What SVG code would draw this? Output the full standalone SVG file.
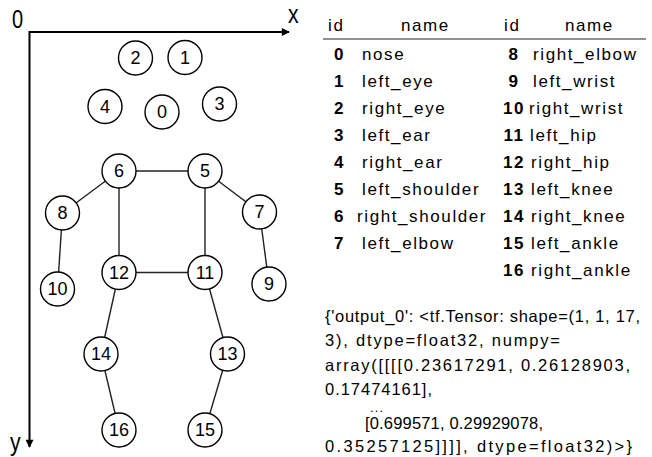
<svg xmlns="http://www.w3.org/2000/svg" width="652" height="457" viewBox="0 0 652 457">
<style>
.edge{stroke:#222;stroke-width:1.4;fill:none}
.node circle{fill:#fff;stroke:#000;stroke-width:1.4}
.node text{font-family:"Liberation Sans",Arial,sans-serif;font-size:18px;text-anchor:middle;fill:#000}
.ax{font-family:"Liberation Sans",Arial,sans-serif;font-size:25px;fill:#000}
.tb{font-family:"Liberation Sans",Arial,sans-serif;font-size:17px;letter-spacing:1.6px;fill:#000}
.id{font-weight:bold;text-anchor:middle}
.out{font-family:"Liberation Sans",Arial,sans-serif;font-size:16.5px;fill:#000}
</style>
<defs>
<marker id="ah" viewBox="0 0 10 10" refX="9" refY="5" markerWidth="9" markerHeight="8" markerUnits="userSpaceOnUse" orient="auto">
<path d="M0,0 L10,5 L0,10 Z" fill="#000"/>
</marker>
<linearGradient id="rule" x1="0" y1="0" x2="1" y2="0">
<stop offset="0" stop-color="#bbb"/>
<stop offset="0.12" stop-color="#333"/>
<stop offset="0.9" stop-color="#222"/>
<stop offset="1" stop-color="#bbb"/>
</linearGradient>
</defs>
<rect width="652" height="457" fill="#fff"/>
<g id="axes">
<line x1="29.5" y1="32" x2="289" y2="32" stroke="#000" stroke-width="2" marker-end="url(#ah)"/>
<line x1="29.5" y1="31" x2="29.5" y2="447" stroke="#000" stroke-width="2" marker-end="url(#ah)"/>
<text class="ax" x="12" y="28" transform="translate(12 0) scale(0.8 1) translate(-12 0)">0</text>
<text class="ax" x="288" y="23" transform="translate(288 0) scale(0.85 1) translate(-288 0)">x</text>
<text class="ax" x="10" y="451" transform="translate(10 0) scale(0.85 1) translate(-10 0)">y</text>
</g>
<g id="connectors">
<line class="edge" x1="119" y1="171" x2="205" y2="171"/>
<line class="edge" x1="119" y1="171" x2="62.5" y2="213"/>
<line class="edge" x1="62.5" y1="213" x2="57.5" y2="289"/>
<line class="edge" x1="205" y1="171" x2="259.5" y2="212"/>
<line class="edge" x1="259.5" y1="212" x2="269" y2="284"/>
<line class="edge" x1="119" y1="171" x2="119" y2="272.5"/>
<line class="edge" x1="205" y1="171" x2="205" y2="272.5"/>
<line class="edge" x1="119" y1="272.5" x2="205" y2="272.5"/>
<line class="edge" x1="119" y1="272.5" x2="101" y2="354"/>
<line class="edge" x1="101" y1="354" x2="119" y2="430"/>
<line class="edge" x1="205" y1="272.5" x2="227.5" y2="354"/>
<line class="edge" x1="227.5" y1="354" x2="205" y2="430"/>
</g>
<g id="n0" class="node"><circle cx="162" cy="112" r="17"/><text x="162" y="118.4">0</text></g>
<g id="n1" class="node"><circle cx="185" cy="57.5" r="17"/><text x="185" y="63.9">1</text></g>
<g id="n2" class="node"><circle cx="135.5" cy="58" r="17"/><text x="135.5" y="64.4">2</text></g>
<g id="n3" class="node"><circle cx="219.5" cy="104" r="17"/><text x="219.5" y="110.4">3</text></g>
<g id="n4" class="node"><circle cx="105" cy="106.5" r="17"/><text x="105" y="112.9">4</text></g>
<g id="n5" class="node"><circle cx="205" cy="171" r="17"/><text x="205" y="177.4">5</text></g>
<g id="n6" class="node"><circle cx="119" cy="171" r="17"/><text x="119" y="177.4">6</text></g>
<g id="n7" class="node"><circle cx="259.5" cy="212" r="17"/><text x="259.5" y="218.4">7</text></g>
<g id="n8" class="node"><circle cx="62.5" cy="213" r="17"/><text x="62.5" y="219.4">8</text></g>
<g id="n9" class="node"><circle cx="269" cy="284" r="17"/><text x="269" y="290.4">9</text></g>
<g id="n10" class="node"><circle cx="57.5" cy="289" r="17"/><text x="57.5" y="295.4">10</text></g>
<g id="n11" class="node"><circle cx="205" cy="272.5" r="17"/><text x="205" y="278.9">11</text></g>
<g id="n12" class="node"><circle cx="119" cy="272.5" r="17"/><text x="119" y="278.9">12</text></g>
<g id="n13" class="node"><circle cx="227.5" cy="354" r="17"/><text x="227.5" y="360.4">13</text></g>
<g id="n14" class="node"><circle cx="101" cy="354" r="17"/><text x="101" y="360.4">14</text></g>
<g id="n15" class="node"><circle cx="205" cy="430" r="17"/><text x="205" y="436.4">15</text></g>
<g id="n16" class="node"><circle cx="119" cy="430" r="17"/><text x="119" y="436.4">16</text></g>
<g id="table">
<line x1="323" y1="11.5" x2="646" y2="11.5" stroke="url(#rule)" stroke-width="2.5"/>
<line x1="323" y1="39" x2="646" y2="39" stroke="#222" stroke-width="1"/>
<line x1="323" y1="284.5" x2="648" y2="284.5" stroke="url(#rule)" stroke-width="2.5"/>
<g class="tb">
<text x="328" y="31">id</text>
<text x="401" y="31">name</text>
<text x="504" y="31">id</text>
<text x="565" y="31">name</text>
</g>
<g class="tb">
<text class="id" x="339.5" y="60">0</text><text x="362" y="60">nose</text>
<text class="id" x="339.5" y="87">1</text><text x="362" y="87">left_eye</text>
<text class="id" x="339.5" y="114">2</text><text x="362" y="114">right_eye</text>
<text class="id" x="339.5" y="141">3</text><text x="362" y="141">left_ear</text>
<text class="id" x="339.5" y="168">4</text><text x="362" y="168">right_ear</text>
<text class="id" x="339.5" y="195">5</text><text x="362" y="195">left_shoulder</text>
<text class="id" x="339.5" y="222">6</text><text x="357" y="222">right_shoulder</text>
<text class="id" x="339.5" y="249">7</text><text x="362" y="249">left_elbow</text>
<text class="id" x="514" y="60">8</text><text x="533" y="60">right_elbow</text>
<text class="id" x="514" y="87">9</text><text x="533" y="87">left_wrist</text>
<text class="id" x="514" y="114">10</text><text x="529" y="114">right_wrist</text>
<text class="id" x="514" y="141">11</text><text x="530" y="141">left_hip</text>
<text class="id" x="514" y="168">12</text><text x="531" y="168">right_hip</text>
<text class="id" x="514" y="195">13</text><text x="531" y="195">left_knee</text>
<text class="id" x="514" y="222">14</text><text x="531" y="222">right_knee</text>
<text class="id" x="514" y="249">15</text><text x="531" y="249">left_ankle</text>
<text class="id" x="514" y="276">16</text><text x="531" y="276">right_ankle</text>
</g>
</g>
<g id="output" class="out">
<text x="325" y="322" textLength="315" lengthAdjust="spacing">{'output_0': &lt;tf.Tensor: shape=(1, 1, 17,</text>
<text x="325" y="346" textLength="235" lengthAdjust="spacing">3), dtype=float32, numpy=</text>
<text x="325" y="371" textLength="305" lengthAdjust="spacing">array([[[[0.23617291, 0.26128903,</text>
<text x="325" y="395" textLength="107" lengthAdjust="spacing">0.17474161],</text>
<text x="370" y="412" font-size="13" textLength="13" lengthAdjust="spacing">...</text>
<text x="365" y="429" textLength="178" lengthAdjust="spacing">[0.699571, 0.29929078,</text>
<text x="325" y="452" textLength="307" lengthAdjust="spacing">0.35257125]]]], dtype=float32)&gt;}</text>
</g>
</svg>
